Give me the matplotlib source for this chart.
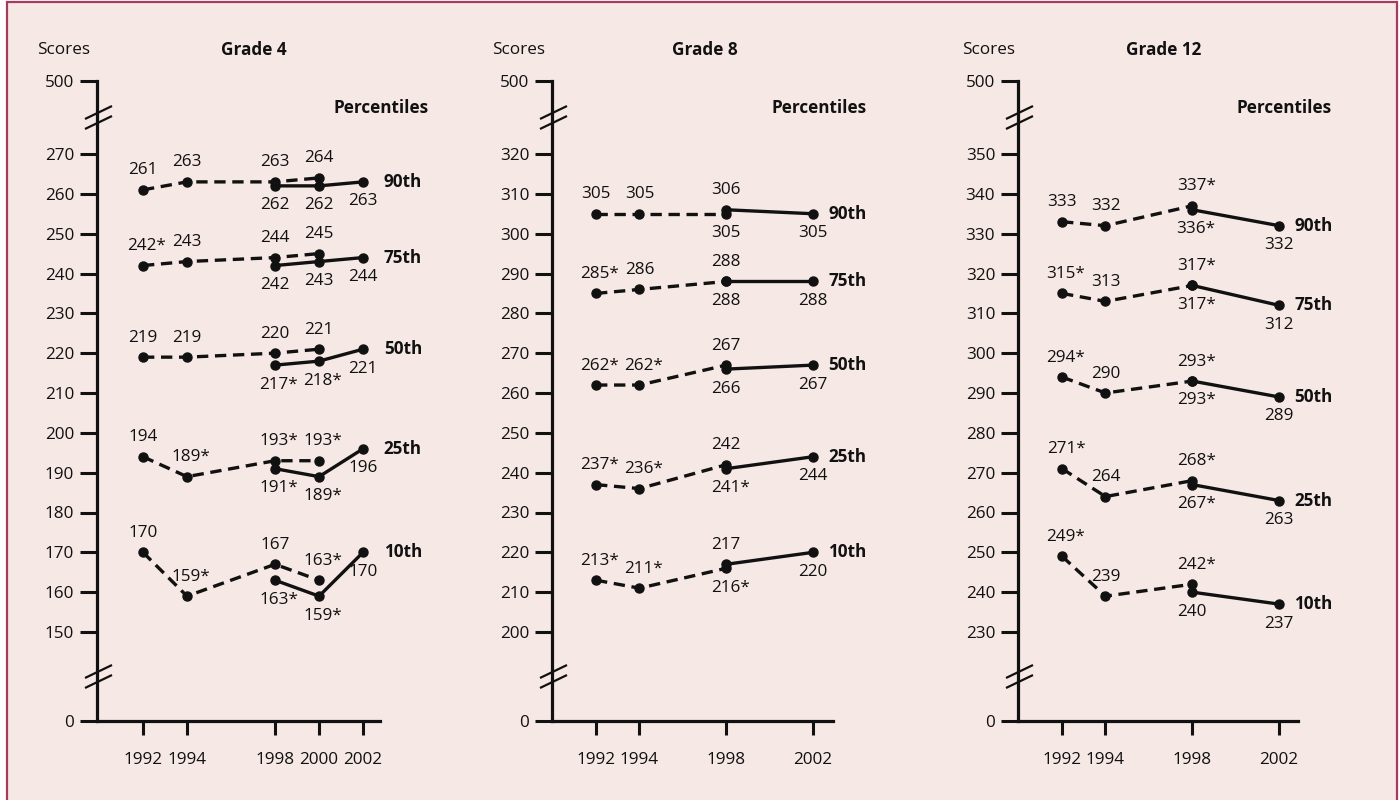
import numpy as np
import matplotlib
matplotlib.use("Agg")
import matplotlib.pyplot as plt
from matplotlib.patches import Rectangle
from matplotlib.lines import Line2D

plt.rcParams['font.family'] = ['Open Sans', 'DejaVu Sans']

# ---------------- data ----------------
PERCENTILES = ["90th", "75th", "50th", "25th", "10th"]

# Grade 4
G4_YEARS_NP = [1992, 1994, 1998, 2000]          # accommodations not permitted (dashed)
G4_NP = [[261, 263, 263, 264],
         [242, 243, 244, 245],
         [219, 219, 220, 221],
         [194, 189, 193, 193],
         [170, 159, 167, 163]]
G4_NP_SIG = [[0, 0, 0, 0],
             [1, 0, 0, 0],
             [0, 0, 0, 0],
             [0, 1, 1, 1],
             [0, 1, 0, 1]]
G4_YEARS_P = [1998, 2000, 2002]                  # accommodations permitted (solid)
G4_P = [[262, 262, 263],
        [242, 243, 244],
        [217, 218, 221],
        [191, 189, 196],
        [163, 159, 170]]
G4_P_SIG = [[0, 0, 0],
            [0, 0, 0],
            [1, 1, 0],
            [1, 1, 0],
            [1, 1, 0]]

# Grade 8
G8_YEARS_NP = [1992, 1994, 1998]
G8_NP = [[305, 305, 305],
         [285, 286, 288],
         [262, 262, 267],
         [237, 236, 242],
         [213, 211, 216]]
G8_NP_SIG = [[0, 0, 0],
             [1, 0, 0],
             [1, 1, 0],
             [1, 1, 0],
             [1, 1, 1]]
G8_YEARS_P = [1998, 2002]
G8_P = [[306, 305],
        [288, 288],
        [266, 267],
        [241, 244],
        [217, 220]]
G8_P_SIG = [[0, 0],
            [0, 0],
            [0, 0],
            [1, 0],
            [0, 0]]

# Grade 12
G12_YEARS_NP = [1992, 1994, 1998]
G12_NP = [[333, 332, 337],
          [315, 313, 317],
          [294, 290, 293],
          [271, 264, 268],
          [249, 239, 242]]
G12_NP_SIG = [[0, 0, 1],
              [1, 0, 1],
              [1, 0, 1],
              [1, 0, 1],
              [1, 0, 1]]
G12_YEARS_P = [1998, 2002]
G12_P = [[336, 332],
         [317, 312],
         [293, 289],
         [267, 263],
         [240, 237]]
G12_P_SIG = [[1, 0],
             [1, 0],
             [1, 0],
             [1, 0],
             [0, 0]]

G4_YTICKS = [0, 150, 160, 170, 180, 190, 200, 210, 220, 230, 240, 250, 260, 270, 500]
G8_YTICKS = [0, 200, 210, 220, 230, 240, 250, 260, 270, 280, 290, 300, 310, 320, 500]
G12_YTICKS = [0, 230, 240, 250, 260, 270, 280, 290, 300, 310, 320, 330, 340, 350, 500]

# ---------------- layout / style ----------------
W, H = 1400, 800
BG = '#F6E8E5'
BORDER = '#A63A60'
INK = '#111111'
FS = 12.3

fig = plt.figure(figsize=(W / 100, H / 100), dpi=100)
fig.patch.set_facecolor('white')
fig.add_artist(Rectangle((7 / W, -0.05), 1390 / W, 1 - 2 / H + 0.05,
                         transform=fig.transFigure, facecolor=BG,
                         edgecolor=BORDER, lw=1.6, zorder=-10))

Y0_PX = 721          # pixel row of score 0
POS = [0.0, 89.0, 567.0, 640.0]   # axis positions (px above 0) of 0, lo, hi, 500


def make_scale(lo, hi):
    xs = np.array([0.0, lo, hi, 500.0])
    ps = np.array(POS)
    s_lo = ps[1] / xs[1]
    s_hi = (ps[3] - ps[2]) / (xs[3] - xs[2])

    def fwd(v):
        v = np.asarray(v, dtype=float)
        out = np.interp(v, xs, ps)
        out = np.where(v < 0, v * s_lo, out)
        out = np.where(v > 500, ps[3] + (v - 500) * s_hi, out)
        return out

    def inv(p):
        p = np.asarray(p, dtype=float)
        out = np.interp(p, ps, xs)
        out = np.where(p < 0, p / s_lo, out)
        out = np.where(p > ps[3], 500 + (p - ps[3]) / s_hi, out)
        return out
    return fwd, inv


panels = [
    dict(title="Grade 4", ax_px=(97, 380), xlim=(1989.91, 2002.77),
         yrs_np=G4_YEARS_NP, np_=G4_NP, np_sig=G4_NP_SIG,
         yrs_p=G4_YEARS_P, p=G4_P, p_sig=G4_P_SIG, yticks=G4_YTICKS,
         title_x=254, scores_x=64, pct_right=429, lab_off=15, flip=set()),
    dict(title="Grade 8", ax_px=(552, 833), xlim=(1989.97, 2002.92),
         yrs_np=G8_YEARS_NP, np_=G8_NP, np_sig=G8_NP_SIG,
         yrs_p=G8_YEARS_P, p=G8_P, p_sig=G8_P_SIG, yticks=G8_YTICKS,
         title_x=705, scores_x=519, pct_right=867, lab_off=11,
         flip={(0, 1998), (4, 1998)}),
    dict(title="Grade 12", ax_px=(1018, 1298), xlim=(1989.97, 2002.87),
         yrs_np=G12_YEARS_NP, np_=G12_NP, np_sig=G12_NP_SIG,
         yrs_p=G12_YEARS_P, p=G12_P, p_sig=G12_P_SIG, yticks=G12_YTICKS,
         title_x=1164, scores_x=989, pct_right=1332, lab_off=11, flip=set()),
]

DY = 14.0     # label offset in points
STAR_DX = 2.8


def label(ax, x, v, sig, above):
    txt = f"{v}*" if sig else f"{v}"
    ax.annotate(txt, (x, v), xytext=(STAR_DX if sig else 0, DY if above else -DY),
                textcoords='offset points', ha='center', va='center',
                fontsize=FS, color=INK, annotation_clip=False)


for pn in panels:
    x0, x1 = pn['ax_px']
    ax = fig.add_axes([x0 / W, (H - Y0_PX) / H, (x1 - x0) / W, POS[3] / H])
    ax.patch.set_alpha(0)
    lo, hi = pn['yticks'][1], pn['yticks'][-2]
    ax.set_yscale('function', functions=make_scale(lo, hi))
    ax.set_ylim(0, 500)
    ax.set_xlim(*pn['xlim'])
    ax.set_yticks(pn['yticks'])
    ax.set_yticklabels([str(t) for t in pn['yticks']])
    years_all = sorted(set(pn['yrs_np']) | set(pn['yrs_p']))
    ax.set_xticks(years_all)
    ax.set_xticklabels([str(y) for y in years_all])
    for s in ('top', 'right'):
        ax.spines[s].set_visible(False)
    for s in ('left', 'bottom'):
        ax.spines[s].set_linewidth(2.3)
        ax.spines[s].set_color(INK)
    ax.tick_params(axis='y', length=12.5, width=2.2, direction='out', pad=4,
                   labelsize=FS, colors=INK)
    ax.tick_params(axis='x', length=10, width=2.2, direction='out', pad=12,
                   labelsize=FS, colors=INK)

    for i, pct in enumerate(PERCENTILES):
        ax.plot(pn['yrs_np'], pn['np_'][i], color=INK, lw=2.4, ls='--',
                dashes=(3.4, 2.0), marker='o', ms=6.5, clip_on=False, zorder=3)
        ax.plot(pn['yrs_p'], pn['p'][i], color=INK, lw=2.4, ls='-',
                marker='o', ms=6.5, clip_on=False, zorder=3)
        for x, v, s in zip(pn['yrs_np'], pn['np_'][i], pn['np_sig'][i]):
            label(ax, x, v, s, above=(i, x) not in pn['flip'])
        for x, v, s in zip(pn['yrs_p'], pn['p'][i], pn['p_sig'][i]):
            label(ax, x, v, s, above=(i, x) in pn['flip'])
        ax.annotate(pct, (pn['yrs_p'][-1], pn['p'][i][-1]),
                    xytext=(pn['lab_off'], 0), textcoords='offset points',
                    ha='left', va='center', fontsize=FS, fontweight='bold',
                    color=INK, annotation_clip=False)

    # axis break marks
    for mid in ((POS[0] + POS[1]) / 2, (POS[2] + POS[3]) / 2):
        yc = (H - Y0_PX) + mid
        for dy in (5, -5):
            fig.add_artist(Line2D([(x0 - 11) / W, (x0 + 14) / W],
                                  [(yc + dy - 6) / H, (yc + dy + 6) / H],
                                  transform=fig.transFigure, color=INK, lw=1.6))

    fig.text(pn['title_x'] / W, 1 - 50 / H, pn['title'], ha='center', va='center',
             fontsize=FS, fontweight='bold', color=INK)
    fig.text(pn['scores_x'] / W, 1 - 50 / H, "Scores", ha='center', va='center',
             fontsize=FS, color=INK)
    fig.text(pn['pct_right'] / W, 1 - 108 / H, "Percentiles", ha='right', va='center',
             fontsize=FS, fontweight='bold', color=INK)

fig.savefig("out.png", dpi=100, facecolor=fig.get_facecolor())
